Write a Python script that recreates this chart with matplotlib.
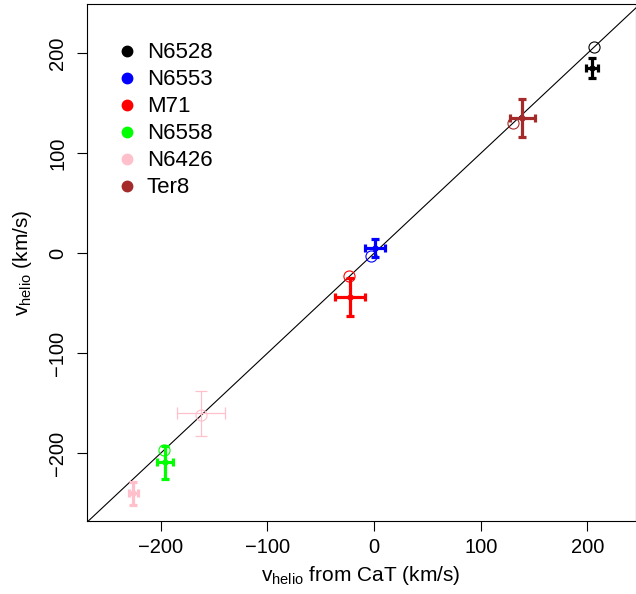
import numpy as np
import matplotlib
matplotlib.use("Agg")
import matplotlib.pyplot as plt
from matplotlib.lines import Line2D

plt.rcParams['font.family'] = ['Liberation Sans', 'DejaVu Sans']
plt.rcParams['mathtext.default'] = 'regular'

# clusters and colours
clusters = ["N6528", "N6553", "M71", "N6558", "N6426", "Ter8"]
colors = ["#000000", "#0000FF", "#FF0000", "#00FF00", "#FFC0CB", "#A52A2A"]

# CaT measurements (thick crosses)
x_cat = [204, 1, -22.5, -196, -225.5, 139]
x_cat_err = [5.6, 9.4, 14.5, 7.8, 4.2, 12]
y_cat = [185, 5.5, -44, -209, -240, 135]
y_cat_err = [10, 9, 19, 16.7, 11.7, 19]

# literature values (open circles on 1:1 line)
lit_clusters = ["N6528", "N6553", "M71", "N6558", "N6426", "Ter8"]
v_lit = [206, -3, -23, -197, -162, 130]

# extra thin cross for N6426
thin_x = [-162.4]
thin_x_err = [22.6]
thin_y = [-160]
thin_y_err = [22.5]

W, H = 636, 594
fig = plt.figure(figsize=(W / 100, H / 100), dpi=100)
ax = fig.add_axes([86.5 / W, 1 - 521 / H, (635.5 - 86.5) / W, (521 - 4.3) / H])

xlim = (-269.4, 245.0)
ylim = (-267.7, 249.0)

ax.plot([-400, 400], [-400, 400], color="black", lw=0.8, zorder=1)

for i, c in enumerate(lit_clusters):
    col = colors[clusters.index(c)]
    ax.plot(v_lit[i], v_lit[i], marker="o", mfc="none", mec=col, ms=8, mew=0.8, ls="none", zorder=3)

ax.errorbar(thin_x, thin_y, xerr=thin_x_err, yerr=thin_y_err, fmt="none",
            ecolor=colors[4], elinewidth=0.9, capsize=4, capthick=0.9, zorder=2)

for i, c in enumerate(clusters):
    ax.errorbar(x_cat[i], y_cat[i], xerr=x_cat_err[i], yerr=y_cat_err[i], fmt="o",
                color=colors[i], ms=3.5, elinewidth=2.3, capsize=3.2, capthick=2.3, zorder=4)

ax.set_xlim(*xlim)
ax.set_ylim(*ylim)
ax.set_xticks([-200, -100, 0, 100, 200])
ax.set_yticks([-200, -100, 0, 100, 200])
ax.set_xticklabels(["\u2212200", "\u2212100", "0", "100", "200"])
ax.set_yticklabels(["\u2212200", "\u2212100", "0", "100", "200"], rotation=90, va="center")
ax.tick_params(direction="out", length=7, width=0.8, labelsize=14.5, pad=5)
ax.tick_params(axis="y", pad=7)
for s in ax.spines.values():
    s.set_linewidth(0.8)

ax.set_xlabel(r"$v_{helio}$ from CaT (km/s)", fontsize=15, labelpad=5)
ax.set_ylabel(r"$v_{helio}$ (km/s)", fontsize=15, labelpad=10)

handles = [Line2D([], [], marker="o", ls="none", color=col, ms=7.5) for col in colors]
ax.legend(handles, clusters, loc="upper left", bbox_to_anchor=(0.013, 0.965), frameon=False,
          fontsize=16, labelspacing=0.27, handletextpad=0.3, handlelength=1.2)

fig.savefig("out.png", dpi=100)
